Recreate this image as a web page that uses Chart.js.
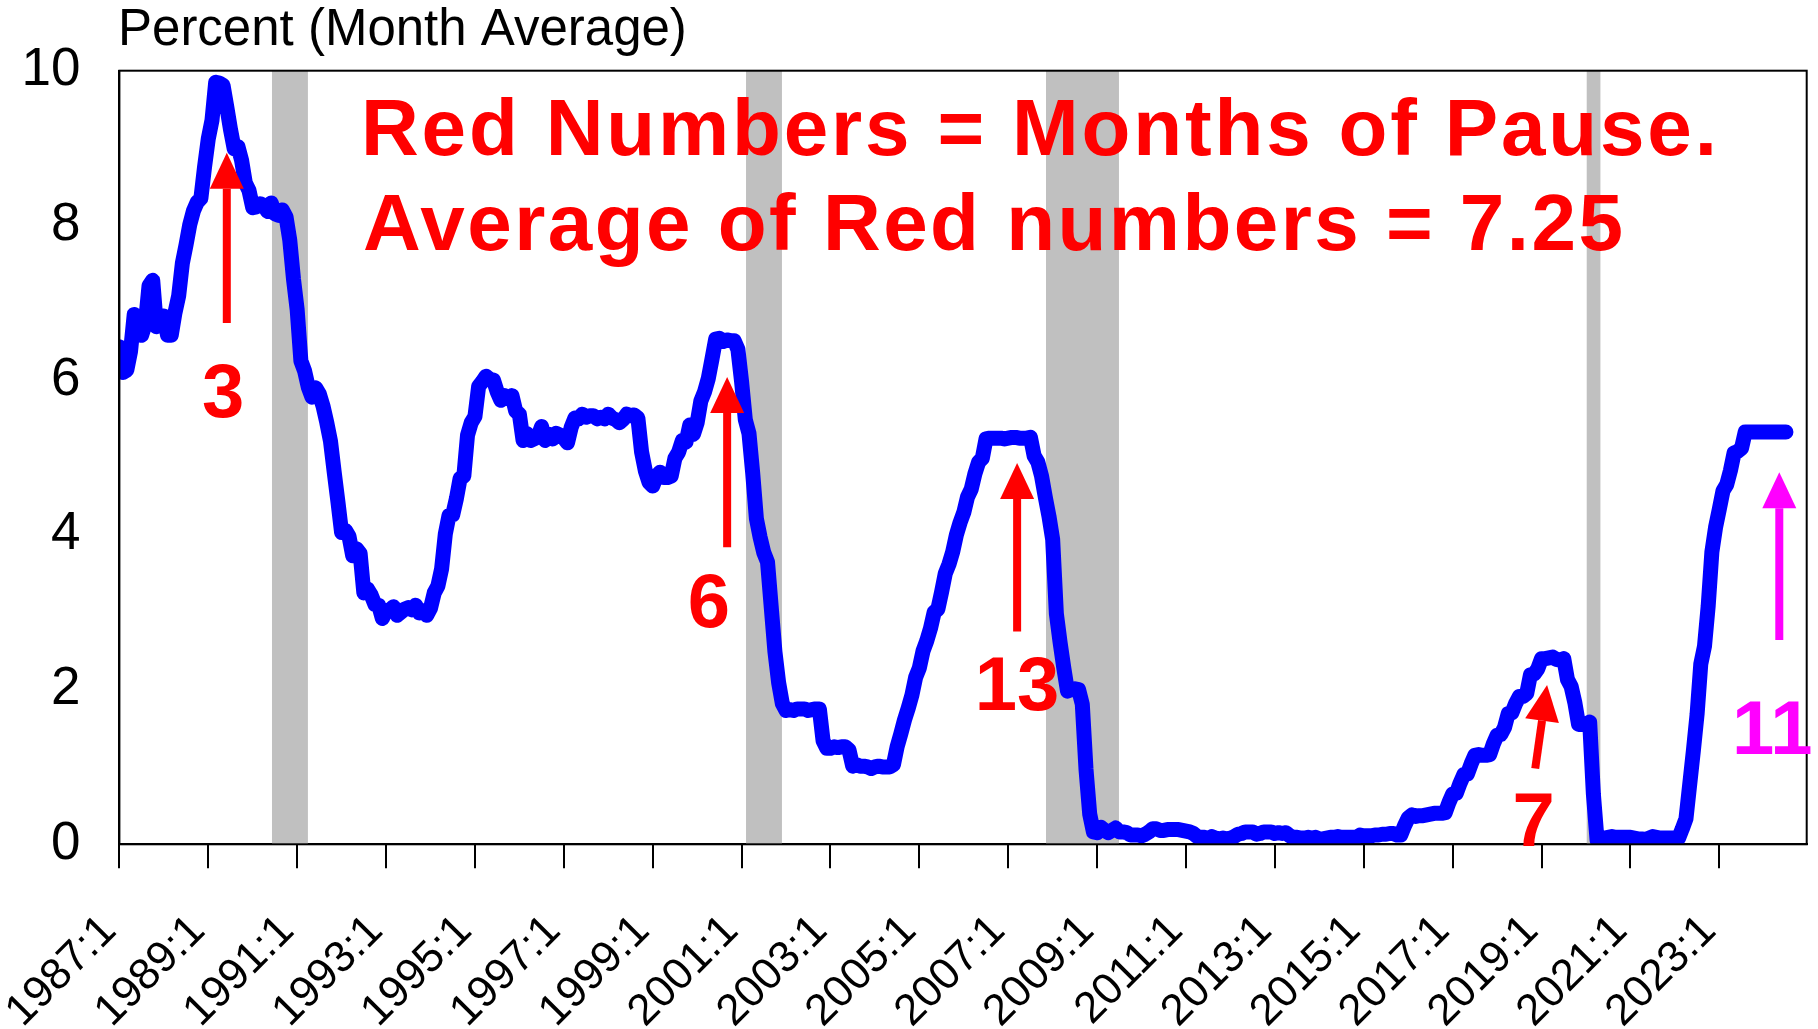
<!DOCTYPE html>
<html lang="en">
<head>
  <meta charset="UTF-8">
  <title>Fed Funds Rate - Months of Pause</title>
  <script src="https://cdn.jsdelivr.net/npm/chart.js@4.4.0/dist/chart.umd.min.js"></script>
  <style>
    html, body { margin: 0; padding: 0; background: #fff; }
  </style>
</head>
<body>
  <canvas id="myChart" width="1818" height="1029"></canvas>

<script>
// monthly effective fed funds rate, percent, starting 1987:1
const rates1987to1989 = [
  6.43, 6.10, 6.13, 6.37, 6.85, 6.73, 6.58, 6.73, 7.22, 7.29, 6.69, 6.77,
  6.83, 6.58, 6.58, 6.87, 7.09, 7.51, 7.75, 8.01, 8.19, 8.30, 8.35, 8.76,
  9.12, 9.36, 9.85, 9.84, 9.81, 9.53, 9.24, 8.99, 9.02, 8.84, 8.55, 8.45
];
const rates1990s = [
  8.23, 8.24, 8.28, 8.26, 8.18, 8.29, 8.15, 8.13, 8.20, 8.11, 7.81, 7.31,
  6.91, 6.25, 6.12, 5.91, 5.78, 5.90, 5.82, 5.66, 5.45, 5.21, 4.81, 4.43,
  4.03, 4.06, 3.98, 3.73, 3.82, 3.76, 3.25, 3.30, 3.22, 3.10, 3.09, 2.92,
  3.02, 3.03, 3.07, 2.96, 3.00, 3.04, 3.06, 3.03, 3.09, 2.99, 3.02, 2.96,
  3.05, 3.25, 3.34, 3.56, 4.01, 4.25, 4.26, 4.47, 4.73, 4.76, 5.29, 5.45,
  5.53, 5.92, 5.98, 6.05, 6.01, 6.00, 5.85, 5.74, 5.80, 5.76, 5.80, 5.60,
  5.56, 5.22, 5.31, 5.22, 5.24, 5.27, 5.40, 5.22, 5.30, 5.24, 5.31, 5.29,
  5.25, 5.19, 5.39, 5.51, 5.50, 5.56, 5.52, 5.54, 5.54, 5.50, 5.52, 5.50,
  5.56, 5.51, 5.49, 5.45, 5.49, 5.56, 5.54, 5.55, 5.51, 5.07, 4.83, 4.68,
  4.63, 4.76, 4.81, 4.74, 4.74, 4.76, 4.99, 5.07, 5.22, 5.20, 5.42, 5.30
];
const rates2000s = [
  5.45, 5.73, 5.85, 6.02, 6.27, 6.53, 6.54, 6.50, 6.52, 6.51, 6.51, 6.40,
  5.98, 5.49, 5.31, 4.80, 4.21, 3.97, 3.77, 3.65, 3.07, 2.49, 2.09, 1.82,
  1.73, 1.74, 1.73, 1.75, 1.75, 1.75, 1.73, 1.74, 1.75, 1.75, 1.34, 1.24,
  1.24, 1.26, 1.25, 1.26, 1.26, 1.22, 1.01, 1.03, 1.01, 1.01, 1.00, 0.98,
  1.00, 1.01, 1.00, 1.00, 1.00, 1.03, 1.26, 1.43, 1.61, 1.76, 1.93, 2.16,
  2.28, 2.50, 2.63, 2.79, 3.00, 3.04, 3.26, 3.50, 3.62, 3.78, 4.00, 4.16,
  4.29, 4.49, 4.59, 4.79, 4.94, 4.99, 5.24, 5.25, 5.25, 5.25, 5.25, 5.24,
  5.25, 5.26, 5.26, 5.25, 5.25, 5.25, 5.26, 5.02, 4.94, 4.76, 4.49, 4.24,
  3.94, 2.98, 2.61, 2.28, 1.98, 2.00, 2.01, 2.00, 1.81, 0.97, 0.39, 0.16,
  0.15, 0.22, 0.18, 0.15, 0.18, 0.21, 0.16, 0.16, 0.15, 0.12, 0.12, 0.12
];
const rates2010s = [
  0.11, 0.13, 0.16, 0.20, 0.20, 0.18, 0.18, 0.19, 0.19, 0.19, 0.19, 0.18,
  0.17, 0.16, 0.14, 0.10, 0.09, 0.09, 0.07, 0.10, 0.08, 0.07, 0.08, 0.07,
  0.08, 0.10, 0.13, 0.14, 0.16, 0.16, 0.16, 0.13, 0.14, 0.16, 0.16, 0.16,
  0.14, 0.15, 0.14, 0.15, 0.11, 0.09, 0.09, 0.08, 0.08, 0.09, 0.08, 0.09,
  0.07, 0.07, 0.08, 0.09, 0.09, 0.10, 0.09, 0.09, 0.09, 0.09, 0.09, 0.12,
  0.11, 0.11, 0.11, 0.12, 0.12, 0.13, 0.13, 0.14, 0.14, 0.12, 0.12, 0.24,
  0.34, 0.38, 0.36, 0.37, 0.37, 0.38, 0.39, 0.40, 0.40, 0.40, 0.41, 0.54,
  0.65, 0.66, 0.79, 0.90, 0.91, 1.04, 1.15, 1.16, 1.15, 1.15, 1.16, 1.30,
  1.41, 1.42, 1.51, 1.69, 1.70, 1.82, 1.91, 1.91, 1.95, 2.19, 2.20, 2.27,
  2.40, 2.40, 2.41, 2.42, 2.39, 2.38, 2.40, 2.13, 2.04, 1.83, 1.55, 1.55
];
const rates2020s = [
  1.55, 1.58, 0.65, 0.05, 0.05, 0.08, 0.09, 0.10, 0.09, 0.09, 0.09, 0.09,
  0.09, 0.08, 0.07, 0.07, 0.06, 0.08, 0.10, 0.09, 0.08, 0.08, 0.08, 0.08,
  0.08, 0.08, 0.20, 0.33, 0.77, 1.21, 1.68, 2.33, 2.56, 3.08, 3.78, 4.10,
  4.33, 4.57, 4.65, 4.83, 5.06, 5.08, 5.12, 5.33, 5.33, 5.33, 5.33, 5.33,
  5.33, 5.33, 5.33, 5.33, 5.33, 5.33, 5.33
];

const xTickLabels = ['1987:1', '1989:1', '1991:1', '1993:1', '1995:1', '1997:1', '1999:1',
  '2001:1', '2003:1', '2005:1', '2007:1', '2009:1', '2011:1', '2013:1', '2015:1',
  '2017:1', '2019:1', '2021:1', '2023:1'];
const yTicks = [0, 2, 4, 6, 8, 10];

// NBER recessions (shaded)
const recessionStarts = ['1990:7', '2001:3', '2007:12', '2020:2'];
const recessionEnds = ['1991:3', '2001:11', '2009:6', '2020:4'];

// pause annotations: arrows and numbers, in (month index, percent)
const pauseLabels = ['3', '6', '13', '7', '11'];
const pauseColors = ['#FF0000', '#FF0000', '#FF0000', '#FF0000', '#FF00FF'];
const arrowTailX = [29.0, 164.1, 242.4, 382.3, 448.2];
const arrowTailY = [6.74, 3.84, 2.75, 0.98, 2.64];
const arrowTipX = [29.0, 164.1, 242.4, 385.5, 448.2];
const arrowTipY = [8.94, 6.04, 4.93, 2.06, 4.81];
const labelX = [28.0, 159.2, 242.4, 381.9, 446.3];
const labelY = [5.52, 2.81, 1.74, -0.02, 1.17];

const noteLines = ['Red Numbers = Months of Pause.', 'Average of Red numbers = 7.25'];

const rates = [].concat(rates1987to1989, rates1990s, rates2000s, rates2010s, rates2020s);
const points = rates.map((v, i) => ({ x: i, y: v }));

function monthIndex(s) {
  const [y, m] = s.split(':').map(Number);
  return (y - 1987) * 12 + (m - 1);
}

const FONT = '"Liberation Sans", Arial, sans-serif';

// note text: left x, baseline y, target width of the line
const noteX = [361, 363];
const noteY = [155, 250];
const noteW = [1356, 1260];

const decorations = {
  id: 'decorations',
  beforeDatasetsDraw(chart) {
    const { ctx, chartArea, scales: { x } } = chart;
    ctx.save();
    ctx.fillStyle = '#C0C0C0';
    recessionStarts.forEach((s, i) => {
      const x0 = x.getPixelForValue(monthIndex(s) - 0.8);
      const x1 = x.getPixelForValue(monthIndex(recessionEnds[i]) + 0.9);
      ctx.fillRect(x0, chartArea.top, x1 - x0, chartArea.bottom - chartArea.top);
    });
    ctx.restore();
  },
  afterDraw(chart) {
    const { ctx, chartArea, scales: { x, y } } = chart;
    ctx.save();
    // frame
    ctx.strokeStyle = '#000';
    ctx.lineWidth = 2;
    ctx.strokeRect(chartArea.left, chartArea.top, chartArea.right - chartArea.left, chartArea.bottom - chartArea.top);

    // axis title
    ctx.fillStyle = '#000';
    ctx.font = '51px ' + FONT;
    ctx.textAlign = 'left';
    ctx.textBaseline = 'alphabetic';
    ctx.fillText('Percent (Month Average)', 118, 45);

    // note, spaced out to its measured width
    ctx.fillStyle = '#FF0000';
    ctx.font = 'bold 80px ' + FONT;
    noteLines.forEach((t, i) => {
      ctx.letterSpacing = '0px';
      const w = ctx.measureText(t).width;
      ctx.letterSpacing = ((noteW[i] - w) / (t.length - 1)).toFixed(2) + 'px';
      ctx.fillText(t, noteX[i], noteY[i]);
    });
    ctx.letterSpacing = '0px';

    // arrows + numbers
    pauseLabels.forEach((lab, i) => {
      const tx = x.getPixelForValue(arrowTailX[i]), ty = y.getPixelForValue(arrowTailY[i]);
      const hx = x.getPixelForValue(arrowTipX[i]), hy = y.getPixelForValue(arrowTipY[i]);
      const len = Math.hypot(hx - tx, hy - ty);
      const ux = (hx - tx) / len, uy = (hy - ty) / len;
      const headLen = 36, headHalf = 17;
      const bx = hx - ux * headLen, by = hy - uy * headLen;
      ctx.strokeStyle = pauseColors[i];
      ctx.fillStyle = pauseColors[i];
      ctx.lineWidth = 8;
      ctx.lineCap = 'butt';
      ctx.beginPath();
      ctx.moveTo(tx, ty);
      ctx.lineTo(bx, by);
      ctx.stroke();
      ctx.beginPath();
      ctx.moveTo(hx, hy);
      ctx.lineTo(bx - uy * headHalf, by + ux * headHalf);
      ctx.lineTo(bx + uy * headHalf, by - ux * headHalf);
      ctx.closePath();
      ctx.fill();

      ctx.font = 'bold 76px ' + FONT;
      ctx.textAlign = 'center';
      ctx.fillText(lab, x.getPixelForValue(labelX[i]), y.getPixelForValue(labelY[i]));
    });
    ctx.restore();
  }
};

const ctx = document.getElementById('myChart').getContext('2d');
new Chart(ctx, {
  type: 'line',
  data: {
    datasets: [{
      label: 'Fed funds rate',
      data: points,
      borderColor: '#0000FF',
      borderWidth: 15,
      borderCapStyle: 'round',
      borderJoinStyle: 'round',
      pointRadius: 0,
      tension: 0,
      fill: false
    }]
  },
  options: {
    responsive: false,
    animation: false,
    layout: { padding: { top: 70.7, right: 11.3, left: 0, bottom: 0 } },
    plugins: { legend: { display: false }, tooltip: { enabled: false } },
    scales: {
      x: {
        type: 'linear',
        min: 0,
        max: 455.6,
        afterBuildTicks: s => { s.ticks = xTickLabels.map((_, i) => ({ value: i * 24 })); },
        afterFit: s => { s.height = 184.7; s.paddingLeft = 0; s.paddingRight = 0; },
        grid: { display: true, drawOnChartArea: false, drawTicks: true, tickLength: 24, color: '#000', lineWidth: 2 },
        border: { display: true, color: '#000', width: 2 },
        ticks: {
          autoSkip: false,
          maxRotation: 45,
          minRotation: 45,
          padding: 37,
          labelOffset: -10,
          color: '#000',
          font: { family: FONT, size: 44 },
          callback: (v, i) => xTickLabels[i]
        }
      },
      y: {
        min: 0,
        max: 10,
        afterBuildTicks: s => { s.ticks = yTicks.map(v => ({ value: v })); },
        afterFit: s => { s.width = 119.4; },
        grid: { display: false },
        border: { display: true, color: '#000', width: 2 },
        ticks: {
          padding: 31,
          color: '#000',
          font: { family: FONT, size: 53 }
        }
      }
    }
  },
  plugins: [decorations]
});
</script>
</body>
</html>
